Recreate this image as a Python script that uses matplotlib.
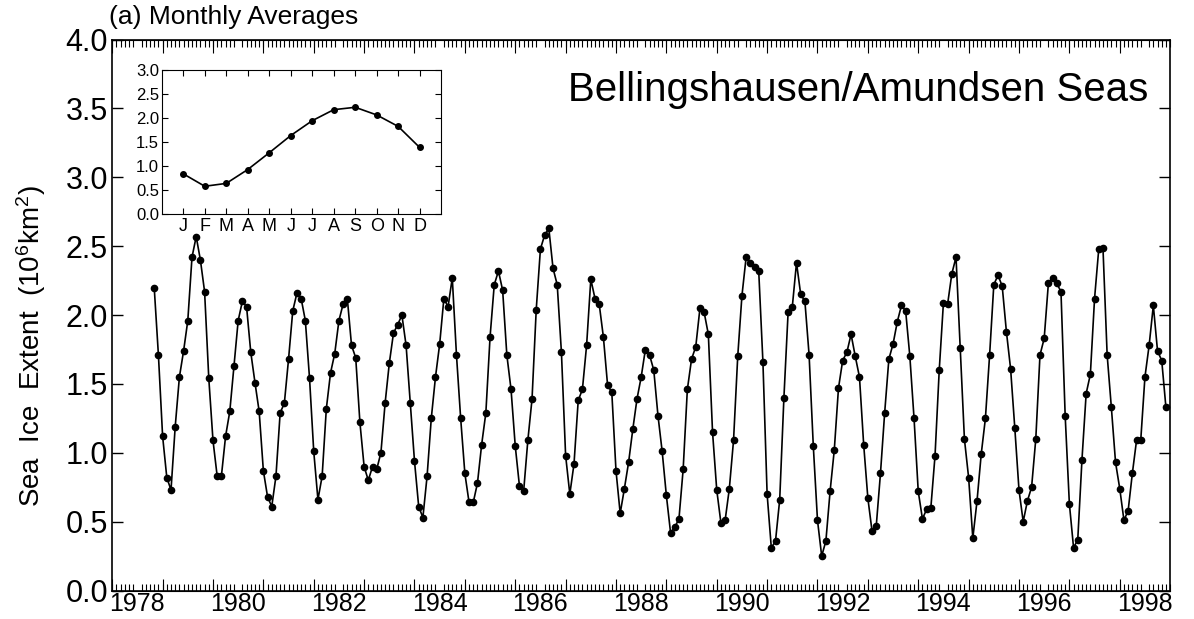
import numpy as np
import matplotlib
matplotlib.use('Agg')
import matplotlib.pyplot as plt
from matplotlib.ticker import FormatStrFormatter

plt.rcParams['font.family'] = ['Liberation Sans', 'DejaVu Sans']
plt.rcParams['mathtext.default'] = 'regular'

# monthly averages, Nov 1978 .. Dec 1998, 10^6 km^2
start_year, start_month = 1978, 11
extent = [
    2.20, 1.71,                                                        # 1978
    1.12, 0.82, 0.73, 1.19, 1.55, 1.74, 1.96, 2.42, 2.57, 2.40, 2.17, 1.54,  # 1979
    1.09, 0.83, 0.83, 1.12, 1.30, 1.63, 1.96, 2.10, 2.06, 1.73, 1.51, 1.30,  # 1980
    0.87, 0.68, 0.61, 0.83, 1.29, 1.36, 1.68, 2.03, 2.16, 2.12, 1.96, 1.54,  # 1981
    1.01, 0.66, 0.83, 1.32, 1.58, 1.72, 1.96, 2.08, 2.12, 1.78, 1.69, 1.22,  # 1982
    0.90, 0.80, 0.90, 0.88, 1.00, 1.36, 1.65, 1.87, 1.93, 2.00, 1.78, 1.36,  # 1983
    0.94, 0.61, 0.53, 0.83, 1.25, 1.55, 1.79, 2.12, 2.06, 2.27, 1.71, 1.25,  # 1984
    0.85, 0.64, 0.64, 0.78, 1.06, 1.29, 1.84, 2.22, 2.32, 2.18, 1.71, 1.46,  # 1985
    1.05, 0.76, 0.72, 1.09, 1.39, 2.04, 2.48, 2.58, 2.63, 2.34, 2.22, 1.73,  # 1986
    0.98, 0.70, 0.92, 1.38, 1.46, 1.78, 2.26, 2.12, 2.08, 1.84, 1.49, 1.44,  # 1987
    0.87, 0.56, 0.74, 0.93, 1.17, 1.39, 1.55, 1.75, 1.71, 1.60, 1.27, 1.01,  # 1988
    0.69, 0.42, 0.46, 0.52, 0.88, 1.46, 1.68, 1.77, 2.05, 2.02, 1.86, 1.15,  # 1989
    0.73, 0.49, 0.51, 0.74, 1.09, 1.70, 2.14, 2.42, 2.38, 2.35, 2.32, 1.66,  # 1990
    0.70, 0.31, 0.36, 0.66, 1.40, 2.02, 2.06, 2.38, 2.15, 2.10, 1.71, 1.05,  # 1991
    0.51, 0.25, 0.36, 0.72, 1.02, 1.47, 1.67, 1.73, 1.86, 1.70, 1.55, 1.06,  # 1992
    0.67, 0.43, 0.47, 0.85, 1.29, 1.68, 1.79, 1.95, 2.07, 2.03, 1.70, 1.25,  # 1993
    0.72, 0.52, 0.59, 0.60, 0.98, 1.60, 2.09, 2.08, 2.30, 2.42, 1.76, 1.10,  # 1994
    0.82, 0.38, 0.65, 0.99, 1.25, 1.71, 2.22, 2.29, 2.21, 1.88, 1.61, 1.18,  # 1995
    0.73, 0.50, 0.65, 0.75, 1.10, 1.71, 1.83, 2.23, 2.27, 2.23, 2.17, 1.27,  # 1996
    0.63, 0.31, 0.37, 0.95, 1.43, 1.57, 2.12, 2.48, 2.49, 1.71, 1.33, 0.93,  # 1997
    0.74, 0.51, 0.58, 0.85, 1.09, 1.09, 1.55, 1.78, 2.07, 1.74, 1.67, 1.33,  # 1998
]

# inset: average seasonal cycle
clim_months = ['J', 'F', 'M', 'A', 'M', 'J', 'J', 'A', 'S', 'O', 'N', 'D']
clim_extent = [0.83, 0.57, 0.63, 0.92, 1.27, 1.63, 1.94, 2.17, 2.22, 2.06, 1.82, 1.38]

year_labels = list(range(1978, 1999, 2))

# time axis in fractional years
t = start_year + (np.arange(len(extent)) + start_month - 1) / 12.0

fig = plt.figure(figsize=(11.94, 6.19), dpi=100)
ax = fig.add_axes([0.094, 0.046, 0.886, 0.89])
ax.plot(t, extent, '-o', color='k', lw=1.2, ms=4.5)

ax.set_xlim(1978, 1999)
ax.set_ylim(0, 4)
ax.set_yticks(np.arange(0, 4.01, 0.5))
ax.yaxis.set_major_formatter(FormatStrFormatter('%.1f'))
ax.tick_params(axis='y', direction='in', length=8, width=1, right=True, labelsize=22, pad=3)

# year labels sit mid-year, monthly minor ticks, longer ticks at each January
ax.set_xticks([y + 0.5 for y in year_labels])
ax.set_xticklabels([str(y) for y in year_labels])
ax.set_xticks(1978 + np.arange(21 * 12 + 1) / 12.0, minor=True)
ax.tick_params(axis='x', which='major', length=0, labelsize=18, pad=1)
ax.tick_params(axis='x', which='minor', direction='in', length=5, width=0.8, top=True, bottom=True)
for side in ('bottom', 'top'):
    sec = ax.secondary_xaxis(side)
    sec.set_xticks(np.arange(1978, 1999))
    sec.tick_params(direction='in', length=9, width=0.8, labelbottom=False, labeltop=False)
for sp in ax.spines.values():
    sp.set_linewidth(1.2)

fig.text(0.026, 0.44, 'Sea  Ice  Extent  (10$^6$km$^2$)', rotation=90, fontsize=20,
         ha='center', va='center')
fig.text(0.091, 0.972, '(a) Monthly Averages', fontsize=19, ha='left', va='center')
fig.text(0.962, 0.855, 'Bellingshausen/Amundsen Seas', fontsize=29, ha='right', va='center')

# inset
ins = fig.add_axes([0.1355, 0.655, 0.234, 0.232])
ins.plot(np.arange(1, 13), clim_extent, '-o', color='k', lw=1.2, ms=4)
ins.set_xlim(0, 13)
ins.set_ylim(0, 3)
ins.set_xticks(np.arange(1, 13))
ins.set_xticklabels(clim_months)
ins.set_yticks(np.arange(0, 3.01, 0.5))
ins.yaxis.set_major_formatter(FormatStrFormatter('%.1f'))
ins.tick_params(axis='x', direction='in', top=True, length=4, labelsize=13, pad=3)
ins.tick_params(axis='y', direction='in', right=True, length=4, labelsize=12, pad=2)

fig.savefig('out.png', dpi=100)
